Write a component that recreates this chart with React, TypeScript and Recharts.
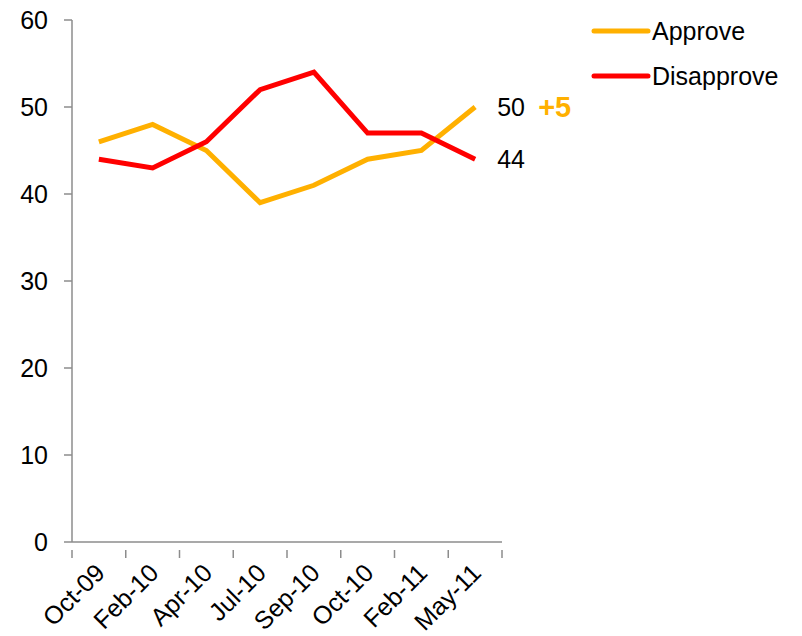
import { LineChart, Line, XAxis, YAxis } from 'recharts';

const months = ['Oct-09', 'Feb-10', 'Apr-10', 'Jul-10', 'Sep-10', 'Oct-10', 'Feb-11', 'May-11'];
const approve = [46, 48, 45, 39, 41, 44, 45, 50];
const disapprove = [44, 43, 46, 52, 54, 47, 47, 44];
const yTicks = [0, 10, 20, 30, 40, 50, 60];
const changeLabel = '+5';

const data = months.map((m, i) => ({ month: m, approve: approve[i], disapprove: disapprove[i] }));

const FONT = '"Liberation Sans", Arial, sans-serif';
const AXIS = '#8c8c8c';
const ORANGE = '#ffb000';
const RED = '#ff0000';
const PLOT_W = 430;
const HALF = PLOT_W / months.length / 2;

function MonthTick(props: any) {
    const { x, y, payload, index } = props;
    const last = index === months.length - 1;
    const ax = x - 5;
    const ay = y + 12;
    return (
        <g>
            <line x1={x - HALF} x2={x - HALF} y1={y} y2={y + 8} stroke={AXIS} strokeWidth={1.5} />
            {last && <line x1={x + HALF} x2={x + HALF} y1={y} y2={y + 8} stroke={AXIS} strokeWidth={1.5} />}
            <text
                x={ax}
                y={ay}
                textAnchor="end"
                transform={`rotate(-45, ${ax}, ${ay})`}
                fontSize={25}
                fontFamily={FONT}
                fill="#000"
                dy="0.7em"
            >
                {payload.value}
            </text>
        </g>
    );
}

function EndLabel(props: any) {
    const { x, y, value, index, extra } = props;
    if (index !== months.length - 1) return null;
    return (
        <g>
            <text x={x + 22} y={y} dy="0.36em" fontSize={25} fontFamily={FONT} fill="#000">
                {value}
            </text>
            {extra && (
                <text x={x + 63} y={y} dy="0.36em" fontSize={29} fontWeight="bold" fontFamily={FONT} fill={ORANGE}>
                    {extra}
                </text>
            )}
        </g>
    );
}

function LegendBox() {
    const items = [
        { name: 'Approve', color: ORANGE },
        { name: 'Disapprove', color: RED },
    ];
    return (
        <svg width={220} height={100} style={{ position: 'absolute', left: 588, top: 10 }}>
            {items.map((it, i) => (
                <g key={it.name}>
                    <line x1={6} x2={60} y1={21 + i * 45} y2={21 + i * 45} stroke={it.color} strokeWidth={5} strokeLinecap="round" />
                    <text x={64} y={21 + i * 45} dy="0.36em" fontSize={25} fontFamily={FONT} fill="#000">
                        {it.name}
                    </text>
                </g>
            ))}
        </svg>
    );
}

export default function App() {
    return (
        <div style={{ position: 'absolute', left: 0, top: 0, width: 802, height: 636, background: '#fff' }}>
            <LineChart width={802} height={636} data={data} margin={{ top: 20, right: 300, left: 0, bottom: 0 }}>
                <XAxis
                    dataKey="month"
                    height={94}
                    padding={{ left: HALF, right: HALF }}
                    stroke={AXIS}
                    strokeWidth={1.5}
                    tickLine={false}
                    interval={0}
                    tick={<MonthTick />}
                />
                <YAxis
                    width={72}
                    domain={[0, 60]}
                    ticks={yTicks}
                    interval={0}
                    stroke={AXIS}
                    strokeWidth={1.5}
                    tickSize={8}
                    tickMargin={16}
                    tick={{ fill: '#000', fontSize: 25, fontFamily: FONT }}
                />
                <Line
                    dataKey="approve"
                    name="Approve"
                    stroke={ORANGE}
                    strokeWidth={5}
                    dot={false}
                    isAnimationActive={false}
                    label={<EndLabel extra={changeLabel} />}
                />
                <Line
                    dataKey="disapprove"
                    name="Disapprove"
                    stroke={RED}
                    strokeWidth={5}
                    dot={false}
                    isAnimationActive={false}
                    label={<EndLabel />}
                />
            </LineChart>
            <LegendBox />
        </div>
    );
}
